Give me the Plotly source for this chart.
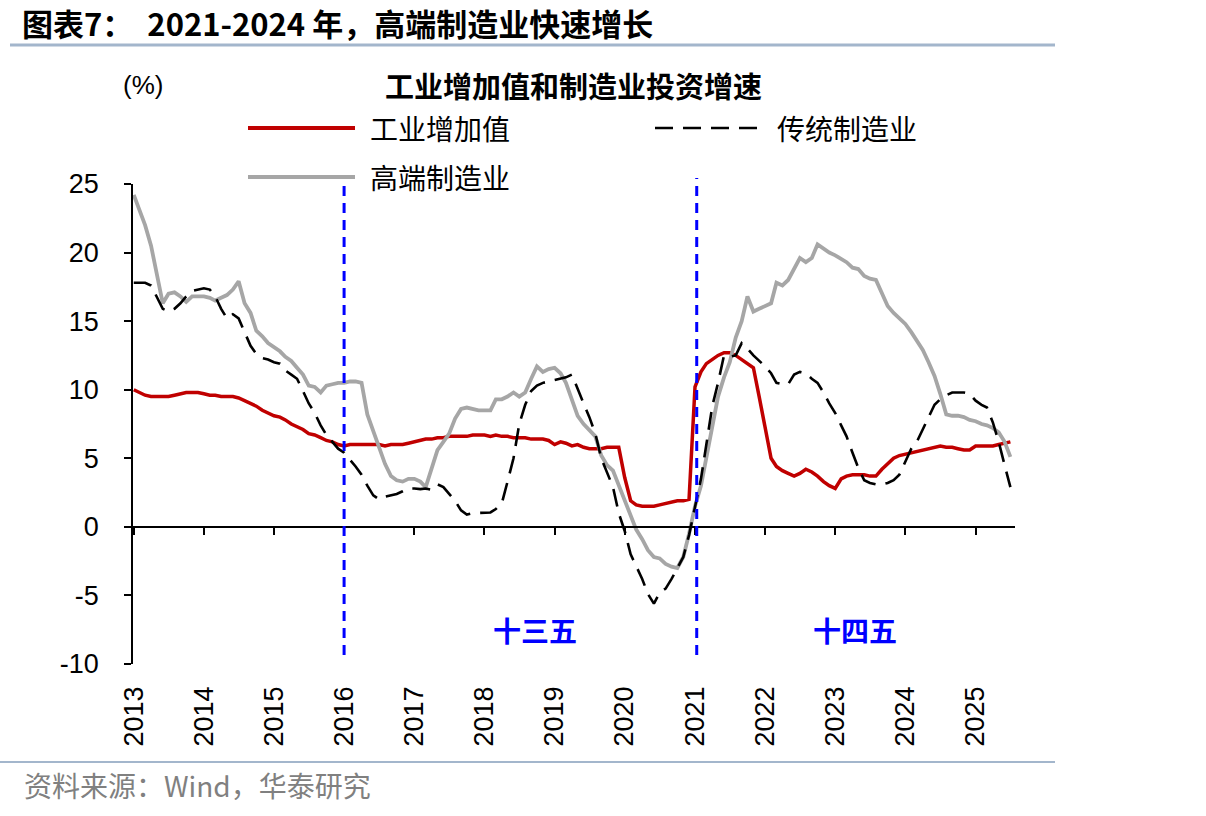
import pandas as pd
import plotly.graph_objects as go

# ---------------- data (monthly, Jan 2013 - Jul 2025) ----------------
months = pd.date_range("2013-01-01", "2025-07-01", freq="MS")

industrial_va = [
    10.0, 9.8, 9.6, 9.5, 9.5, 9.5, 9.5, 9.6, 9.7, 9.8, 9.8, 9.8,      # 2013
    9.7, 9.6, 9.6, 9.5, 9.5, 9.5, 9.4, 9.2, 9.0, 8.8, 8.5, 8.3,       # 2014
    8.1, 8.0, 7.8, 7.5, 7.3, 7.1, 6.8, 6.7, 6.5, 6.3, 6.2, 6.0,       # 2015
    5.9, 6.0, 6.0, 6.0, 6.0, 6.0, 6.0, 5.9, 6.0, 6.0, 6.0, 6.1,       # 2016
    6.2, 6.3, 6.4, 6.4, 6.5, 6.5, 6.6, 6.6, 6.6, 6.6, 6.7, 6.7,       # 2017
    6.7, 6.6, 6.7, 6.6, 6.6, 6.5, 6.5, 6.5, 6.4, 6.4, 6.4, 6.3,       # 2018
    6.0, 6.2, 6.1, 5.9, 6.0, 5.8, 5.7, 5.7, 5.7, 5.8, 5.8, 5.8,       # 2019
    3.6, 1.9, 1.6, 1.5, 1.5, 1.5, 1.6, 1.7, 1.8, 1.9, 1.9, 2.0,       # 2020
    10.2, 11.3, 11.9, 12.2, 12.5, 12.7, 12.7, 12.5, 12.2, 11.9, 11.6, 9.5,  # 2021
    7.2, 5.0, 4.4, 4.1, 3.9, 3.7, 3.9, 4.2, 4.0, 3.7, 3.3, 3.0,       # 2022
    2.8, 3.5, 3.7, 3.8, 3.8, 3.8, 3.7, 3.7, 4.2, 4.6, 5.0, 5.2,       # 2023
    5.3, 5.4, 5.5, 5.6, 5.7, 5.8, 5.9, 5.8, 5.8, 5.7, 5.6, 5.6,       # 2024
    5.9, 5.9, 5.9, 5.9, 6.0, 6.1, 6.2,                                # 2025
]

traditional_mfg = [
    17.8, 17.8, 17.8, 17.6, 16.8, 15.9, 15.7, 15.9, 16.3, 16.8, 17.2, 17.3,
    17.4, 17.3, 16.8, 15.9, 15.2, 15.5, 15.2, 14.2, 13.2, 12.6, 12.3, 12.2,
    12.0, 11.9, 11.4, 11.1, 10.8, 9.9, 9.0, 8.3, 7.4, 6.7, 6.2, 5.7,
    5.4, 4.9, 4.4, 3.8, 3.0, 2.3, 2.0, 2.2, 2.3, 2.4, 2.6, 2.8,
    2.8, 2.75, 2.8, 2.7, 3.1, 2.9, 2.4, 1.9, 1.2, 0.9, 1.0, 1.0,
    1.0, 1.05, 1.3, 1.7, 3.3, 5.0, 7.5, 8.9, 9.9, 10.3, 10.5, 10.6,
    10.7, 10.85, 10.9, 11.1, 10.0, 9.0, 8.0, 6.8, 5.0, 3.9, 2.9, 1.0,
    -0.3, -2.0, -2.9, -3.8, -4.9, -5.6, -4.8, -4.5, -3.8, -3.0, -2.2, -0.6,
    1.5, 3.5, 6.0, 8.8, 10.5, 12.5, 12.4, 12.5, 13.4, 13.0, 12.5, 12.1,
    11.7, 11.2, 10.5, 10.4, 10.4, 11.1, 11.3, 11.2, 10.8, 10.5, 9.8, 9.0,
    8.3, 7.4, 6.6, 5.4, 4.3, 3.4, 3.2, 3.1, 3.1, 3.2, 3.4, 3.8,
    4.8, 5.7, 6.2, 7.1, 7.9, 8.9, 9.3, 9.6, 9.8, 9.8, 9.8, 9.7,
    9.2, 8.9, 8.7, 7.6, 6.2, 4.5, 2.9,
]

high_end_mfg = [
    24.2, 23.0, 22.0, 20.5, 18.5, 16.3, 17.0, 17.1, 16.8, 16.4, 16.8, 16.8,
    16.8, 16.7, 16.5, 16.7, 16.9, 17.3, 17.9, 16.3, 15.6, 14.3, 13.9, 13.4,
    13.1, 12.8, 12.4, 12.1, 11.6, 11.1, 10.3, 10.2, 9.8, 10.3, 10.4, 10.5,
    10.5, 10.6, 10.6, 10.5, 8.2, 7.0, 5.9, 4.6, 3.7, 3.4, 3.3, 3.5,
    3.5, 3.3, 2.9, 4.3, 5.6, 6.2, 6.8, 7.9, 8.6, 8.7, 8.6, 8.5,
    8.5, 8.5, 9.3, 9.3, 9.5, 9.8, 9.5, 9.8, 10.8, 11.7, 11.3, 11.5,
    11.6, 11.2, 10.5, 9.2, 8.1, 7.5, 7.1, 6.6, 5.2, 4.5, 4.1, 3.0,
    1.9, 0.7, -0.2, -0.9, -1.7, -2.2, -2.3, -2.7, -2.9, -3.0, -2.2, -0.5,
    1.5, 3.0, 5.0, 7.0, 9.5, 10.9, 12.0, 13.8, 15.0, 16.8, 15.7, 15.9,
    16.1, 16.3, 17.8, 17.6, 18.0, 18.8, 19.6, 19.3, 19.6, 20.6, 20.3, 20.0,
    19.8, 19.5, 19.3, 18.9, 18.8, 18.3, 18.1, 18.0, 17.0, 16.1, 15.6, 15.2,
    14.8, 14.2, 13.6, 12.9, 12.0, 11.0, 9.7, 8.2, 8.1, 8.1, 8.0, 7.8,
    7.7, 7.5, 7.4, 7.2, 6.9, 6.2, 5.1,
]

series_names = ["工业增加值", "传统制造业", "高端制造业"]
plan_boundaries = ["2016-01-01", "2021-01-10"]
plan_labels = ["十三五", "十四五"]
plan_label_x = ["2018-09-20", "2023-04-15"]
plan_label_y = -7.5
y_tick_vals = [-10, -5, 0, 5, 10, 15, 20, 25]
y_tick_text = ["-10", "-5", "0", "5", "10", "15", "20", "25"]

# ---------------- figure ----------------
W, H = 1206, 816
L, R, T, B = 133, 191, 184, 152
PW, PH = W - L - R, H - T - B


def px(xp):
    return (xp - L) / PW


def py(yp):
    return (H - B - yp) / PH


CJK = "Noto Sans CJK SC"
LAT = "Liberation Sans, Arial"

RED, BLACK, GRAY, BLUE = "#C00000", "#000000", "#A6A6A6", "#0000FF"
DASH = "18px,10px"

fig = go.Figure()
fig.add_trace(go.Scatter(x=months, y=industrial_va, mode="lines", name=series_names[0],
                         line=dict(color=RED, width=3.5), showlegend=False))
fig.add_trace(go.Scatter(x=months, y=high_end_mfg, mode="lines", name=series_names[2],
                         line=dict(color=GRAY, width=3.8), showlegend=False))
fig.add_trace(go.Scatter(x=months, y=traditional_mfg, mode="lines", name=series_names[1],
                         line=dict(color=BLACK, width=2.6, dash=DASH), showlegend=False))
# carrier for the bottom label axis
fig.add_trace(go.Scatter(x=[months[0]], y=[None], xaxis="x2", yaxis="y",
                         showlegend=False, hoverinfo="skip"))

xrange = ["2012-12-28", "2025-07-25"]

shapes = []
# plan boundary lines
for d in plan_boundaries:
    shapes.append(dict(type="line", xref="x", yref="paper", x0=d, x1=d,
                       y0=py(655), y1=py(178), line=dict(color=BLUE, width=3, dash="10px,7px")))
# manual legend samples
shapes.append(dict(type="line", xref="paper", yref="paper", x0=px(248), x1=px(355),
                   y0=py(128), y1=py(128), line=dict(color=RED, width=4)))
shapes.append(dict(type="line", xref="paper", yref="paper", x0=px(248), x1=px(355),
                   y0=py(177), y1=py(177), line=dict(color=GRAY, width=4)))
shapes.append(dict(type="line", xref="paper", yref="paper", x0=px(655), x1=px(765),
                   y0=py(128), y1=py(128), line=dict(color=BLACK, width=2.6, dash=DASH)))
# header and footer rules
shapes.append(dict(type="line", xref="paper", yref="paper", x0=px(10), x1=px(1055),
                   y0=py(45), y1=py(45), line=dict(color="#A3B6CC", width=3)))
shapes.append(dict(type="line", xref="paper", yref="paper", x0=px(0), x1=px(1055),
                   y0=py(762), y1=py(762), line=dict(color="#A3B6CC", width=2)))

annotations = []
for i, (name, xp, yp) in enumerate([(series_names[0], 368, 128), (series_names[1], 775, 128),
                                     (series_names[2], 368, 177)]):
    annotations.append(dict(text=name, xref="paper", yref="paper", x=px(xp), y=py(yp),
                            xanchor="left", yanchor="middle", showarrow=False,
                            font=dict(family=CJK, size=28, color="#000000")))
for lab, lx in zip(plan_labels, plan_label_x):
    annotations.append(dict(text="<b>" + lab + "</b>", xref="x", yref="y", x=lx, y=plan_label_y,
                            showarrow=False, font=dict(family=CJK, size=28, color=BLUE)))
annotations.append(dict(text="<b>工业增加值和制造业投资增速</b>", xref="paper", yref="paper",
                        x=px(573), y=py(85), showarrow=False, xanchor="center", yanchor="middle",
                        font=dict(family=CJK, size=29, color="#000000")))
annotations.append(dict(text="(%)", xref="paper", yref="paper", x=px(143), y=py(85),
                        showarrow=False, xanchor="center", yanchor="middle",
                        font=dict(family=LAT, size=26, color="#000000")))
annotations.append(dict(text="资料来源：Wind，华泰研究", xref="paper", yref="paper",
                        x=px(22), y=py(785), showarrow=False, xanchor="left", yanchor="middle",
                        font=dict(family=CJK, size=28, color="#808080")))

fig.update_layout(
    width=W, height=H,
    margin=dict(l=L, r=R, t=T, b=B),
    paper_bgcolor="white", plot_bgcolor="white",
    title=dict(text="<b>图表7：  2021-2024 年，高端制造业快速增长</b>", xref="container",
               yref="container", x=22 / W, xanchor="left", y=1 - 25 / H, yanchor="middle",
               font=dict(family=CJK, size=31, color="#000000")),
    showlegend=False,
    xaxis=dict(type="date", range=xrange, anchor="free", position=10 / 35,
               showline=True, linecolor="#000000", linewidth=2,
               ticks="outside", ticklen=7, tickwidth=1.5, tickcolor="#000000",
               tick0="2013-01-01", dtick="M12", showticklabels=False,
               showgrid=False, zeroline=False),
    xaxis2=dict(type="date", range=xrange, overlaying="x", anchor="y", side="bottom",
                showline=False, ticks="", tick0="2013-01-01", dtick="M12",
                tickformat="%Y", tickangle=-90, ticklabelstandoff=16,
                tickfont=dict(family=LAT, size=27, color="#000000"),
                showgrid=False, zeroline=False),
    yaxis=dict(range=[-10, 25], tickmode="array", tickvals=y_tick_vals, ticktext=y_tick_text,
               anchor="x",
               showline=True, linecolor="#000000", linewidth=1.5,
               ticks="outside", ticklen=7, tickwidth=1.5, tickcolor="#000000",
               ticklabelstandoff=20,
               tickfont=dict(family=LAT, size=27, color="#000000"),
               showgrid=False, zeroline=False),
    shapes=shapes,
    annotations=annotations,
)

fig.write_html("out.html")
